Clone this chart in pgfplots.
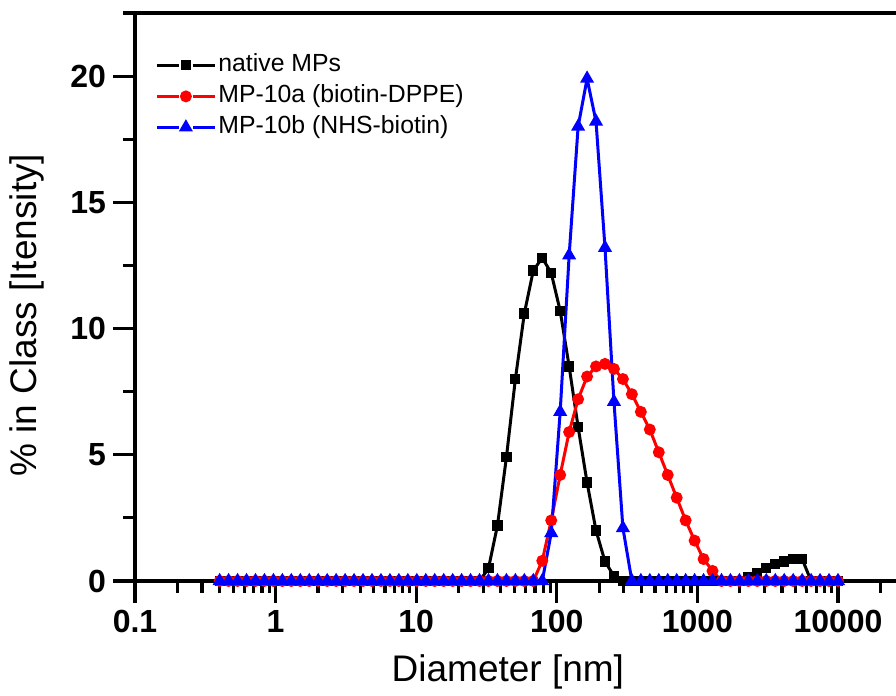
\documentclass[border=0pt]{standalone}
\usepackage{fontspec}
\setmainfont{Liberation Sans}
\usepackage{pgfplots}
\pgfplotsset{compat=1.18}
\usepackage{pgfplotstable}

% size distribution by intensity, 70 log bins
\pgfplotstableread{
d      nat   a     b
0.4    0     0     0
0.4632 0     0     0
0.5365 0     0     0
0.6213 0     0     0
0.7195 0     0     0
0.8332 0     0     0
0.9650 0     0     0
1.117  0     0     0
1.294  0     0     0
1.499  0     0     0
1.736  0     0     0
2.010  0     0     0
2.328  0     0     0
2.696  0     0     0
3.122  0     0     0
3.615  0     0     0
4.187  0     0     0
4.849  0     0     0
5.615  0     0     0
6.503  0     0     0
7.531  0     0     0
8.721  0     0     0
10.10  0     0     0
11.70  0     0     0
13.54  0     0     0
15.69  0     0     0
18.17  0     0     0
21.04  0     0     0
24.36  0     0     0
28.21  0     0     0
32.67  0.5   0     0
37.84  2.2   0     0
43.82  4.9   0     0
50.75  8.0   0     0
58.77  10.6  0     0
68.06  12.3  0     0
78.82  12.8  0.8   0
91.28  12.2  2.4   1.9
105.7  10.7  4.2   6.7
122.4  8.5   5.9   12.9
141.8  6.1   7.2   18.0
164.2  3.9   8.1   19.9
190.1  2.0   8.5   18.2
220.2  0.77  8.6   13.2
255.0  0.2   8.4   7.1
295.3  0     8.0   2.1
342.0  0     7.4   0
396.1  0     6.7   0
458.7  0     6.0   0
531.2  0     5.1   0
615.1  0     4.2   0
712.4  0     3.3   0
825.0  0     2.4   0
955.4  0     1.6   0
1106   0     0.87  0
1281   0     0.4   0
1484   0     0     0
1718   0     0     0
1990   0     0     0
2305   0.15  0     0
2669   0.3   0     0
3091   0.5   0     0
3580   0.67  0     0
4145   0.77  0     0
4801   0.87  0     0
5560   0.87  0     0
6439   0     0     0
7456   0     0     0
8635   0     0     0
10000  0     0     0
}\dls

\begin{document}
\begin{tikzpicture}
\begin{axis}[
  scale only axis,
  width=380.5pt, height=284pt,
  xmode=log,
  xmin=0.1, xmax=25850,
  ymin=0, ymax=22.5,
  axis x line*=bottom, axis y line*=left,
  x axis line style={-}, y axis line style={-},
  axis line style={line width=2pt},
  clip=false, axis on top,
  tick align=outside,
  major tick length=11pt, minor tick length=6pt,
  every tick/.style={black, line width=1.6pt},
  xtick={0.1,1,10,100,1000,10000},
  xticklabels={0.1,1,10,100,1000,10000},
  minor xtick={0.2,0.3,0.4,0.5,0.6,0.7,0.8,0.9,2,3,4,5,6,7,8,9,
    20,30,40,50,60,70,80,90,200,300,400,500,600,700,800,900,
    2000,3000,4000,5000,6000,7000,8000,9000,20000},
  ytick={0,5,10,15,20},
  yticklabels={0,5,10,15,20},
  minor ytick={2.5,7.5,12.5,17.5,22.5},
  ticklabel style={font=\fontsize{16}{16}\selectfont\bfseries},
  xlabel={Diameter [nm]},
  ylabel={\% in Class [Itensity]},
  every axis x label/.style={at={(axis description cs:0.490,-0.160)}, anchor=center,
    font=\fontsize{18.5}{18.5}\selectfont},
  every axis y label/.style={at={(axis description cs:-0.1419,0.468)}, rotate=90, anchor=center,
    font=\fontsize{18.5}{18.5}\selectfont},
  legend style={at={(axis description cs:0,1)}, anchor=north west,
    xshift=10pt, yshift=-19pt, draw=none, fill=none, inner sep=0pt,
    font=\fontsize{12.4}{14}\selectfont, row sep=1.5pt,
    nodes={inner sep=1pt, text height=9pt, text depth=3pt}},
  legend cell align=left,
  legend image code/.code={
    \draw[#1, mark=none] (0pt,0pt) -- (11pt,0pt);
    \draw[#1, mark=none] (18pt,0pt) -- (29pt,0pt);
    \draw[#1] plot[only marks] coordinates {(14.5pt,0pt)};
  },
]
\addplot[black, line width=1.5pt, mark=square*, mark size=1.8pt, mark options={solid}]
  table[x=d, y=nat] {\dls};
\addlegendentry{native MPs}
\addplot[red, line width=1.5pt, mark=*, mark size=2.2pt, mark options={solid}]
  table[x=d, y=a] {\dls};
\addlegendentry{MP-10a (biotin-DPPE)}
\addplot[blue, line width=1.5pt, mark=triangle*, mark size=2.6pt, mark options={solid}]
  table[x=d, y=b] {\dls};
\addlegendentry{MP-10b (NHS-biotin)}
\draw[line width=2pt] (rel axis cs:0,1) -- (rel axis cs:1,1);
\end{axis}
\pgfresetboundingbox
\useasboundingbox (-67.5pt,-57.5pt) rectangle (380.5pt,290.5pt);
\end{tikzpicture}
\end{document}
